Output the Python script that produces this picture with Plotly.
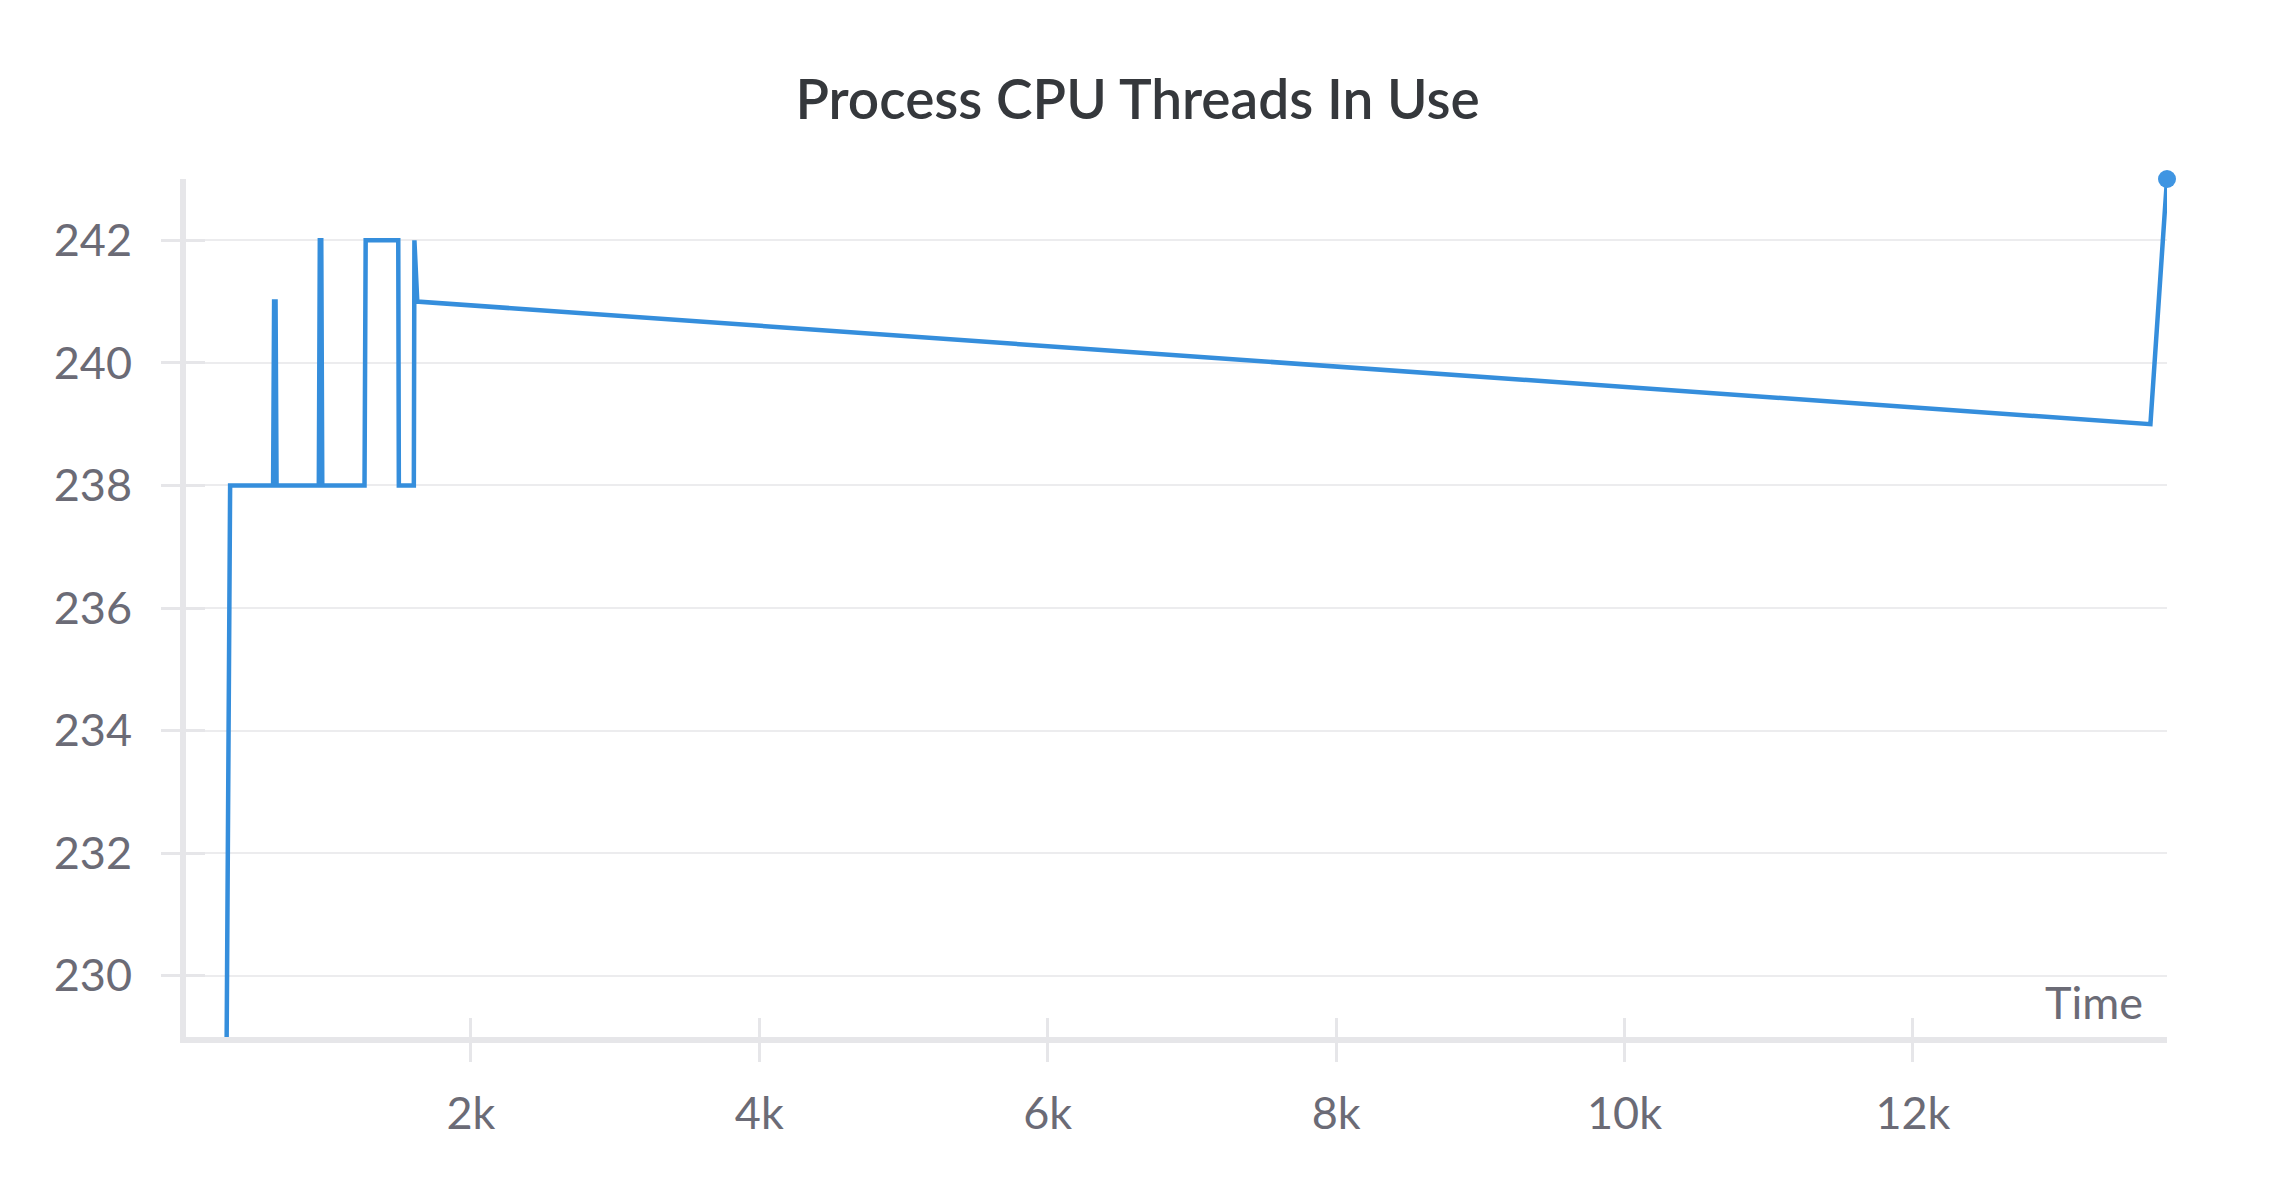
import plotly.graph_objects as go

# ---- data ----
time_s = [306, 330, 628, 635, 645, 652, 945, 952, 962, 969, 1262, 1270,
          1496, 1500, 1604, 1608, 1628, 13647, 13762]
threads = [229, 238, 238, 241, 241, 238, 238, 242, 242, 238, 238, 242,
           242, 238, 238, 242, 241, 239, 243]

x_tick_vals = [2000, 4000, 6000, 8000, 10000, 12000]
x_tick_text = ["2k", "4k", "6k", "8k", "10k", "12k"]
y_tick_vals = [230, 232, 234, 236, 238, 240, 242]

x_range = [24, 13762]
y_range = [229, 243]

LINE = "#358edc"
AXIS = "#e6e6e9"
GRID = "#ececee"
TICKTXT = "#6b6b76"
FONT = "Lato"

fig = go.Figure()
fig.add_trace(go.Scatter(
    x=time_s, y=threads, mode="lines",
    line=dict(color=LINE, width=4.5), hoverinfo="skip", showlegend=False,
))
# end-point marker, drawn on overlay axes with identical ranges
fig.add_trace(go.Scatter(
    x=[time_s[-1]], y=[threads[-1]], mode="markers", cliponaxis=False,
    marker=dict(color="#3f95e2", size=18, line=dict(width=0)),
    xaxis="x2", yaxis="y2", hoverinfo="skip", showlegend=False,
))

common_font = dict(family=FONT, size=45, color=TICKTXT)

fig.update_layout(
    width=2275, height=1195,
    paper_bgcolor="white", plot_bgcolor="white",
    margin=dict(l=186, r=108, t=179, b=158),
    title=dict(
        text="Process CPU Threads In Use",
        font=dict(family=FONT, size=55, color="#35383c", weight=600),
        x=0.5, xref="container", xanchor="center",
        y=1 - 100 / 1195, yref="container", yanchor="middle",
    ),
    xaxis=dict(
        range=x_range, tickvals=x_tick_vals, ticktext=x_tick_text,
        showgrid=False, zeroline=False,
        showline=True, linecolor=AXIS, linewidth=6,
        ticks="outside", ticklen=19, tickwidth=3, tickcolor=AXIS,
        tickfont=common_font, ticklabelstandoff=13,
    ),
    yaxis=dict(
        range=y_range, tickvals=y_tick_vals,
        showgrid=True, gridcolor=GRID, gridwidth=2, zeroline=False,
        showline=True, linecolor=AXIS, linewidth=6,
        ticks="outside", ticklen=19, tickwidth=3, tickcolor=AXIS,
        tickfont=common_font, ticklabelstandoff=20,
    ),
    xaxis2=dict(
        range=x_range, tickvals=x_tick_vals, overlaying="x", anchor="y2",
        side="bottom", showgrid=False, zeroline=False, showline=False,
        ticks="inside", ticklen=19, tickwidth=3, tickcolor=AXIS,
        showticklabels=False,
    ),
    yaxis2=dict(
        range=y_range, tickvals=y_tick_vals, overlaying="y", anchor="x2",
        side="left", showgrid=False, zeroline=False, showline=False,
        ticks="inside", ticklen=19, tickwidth=3, tickcolor=AXIS,
        showticklabels=False,
    ),
    annotations=[dict(
        text="Time", xref="paper", yref="paper", x=1, y=0,
        xanchor="right", yanchor="bottom", xshift=-22, yshift=6,
        showarrow=False, font=common_font,
    )],
)

fig.write_html(
    "out.html",
    config={"displayModeBar": False},
    post_script="document.body.style.margin='0';document.body.style.overflow='hidden';",
)
